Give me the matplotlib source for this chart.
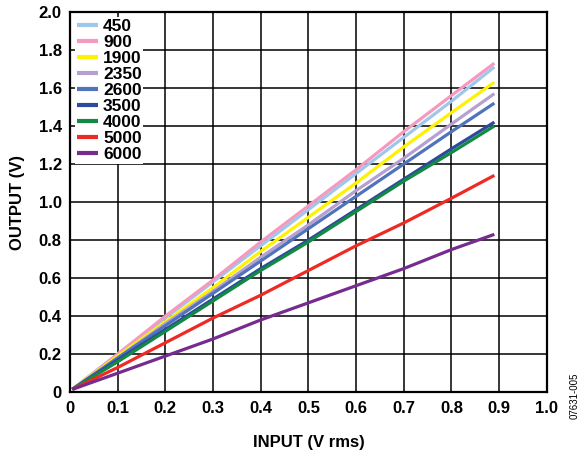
import matplotlib
matplotlib.use("Agg")
import matplotlib.pyplot as plt

plt.rcParams['font.family'] = ['Liberation Sans', 'DejaVu Sans']

# input voltage (V rms) and output voltage (V) per frequency series
input_v = [0.005, 0.1, 0.2, 0.3, 0.4, 0.5, 0.6, 0.7, 0.8, 0.89]
series = {
    "450":  [0.015, 0.20, 0.39, 0.58, 0.77, 0.96, 1.15, 1.34, 1.53, 1.71],
    "900":  [0.015, 0.20, 0.40, 0.59, 0.79, 0.98, 1.17, 1.37, 1.56, 1.73],
    "1900": [0.015, 0.19, 0.37, 0.55, 0.74, 0.92, 1.10, 1.29, 1.47, 1.63],
    "2350": [0.015, 0.18, 0.36, 0.53, 0.71, 0.88, 1.06, 1.23, 1.41, 1.57],
    "2600": [0.015, 0.18, 0.35, 0.52, 0.69, 0.86, 1.03, 1.20, 1.37, 1.52],
    "3500": [0.015, 0.17, 0.33, 0.49, 0.65, 0.80, 0.96, 1.12, 1.28, 1.42],
    "4000": [0.015, 0.16, 0.32, 0.48, 0.64, 0.79, 0.95, 1.11, 1.26, 1.40],
    "5000": [0.015, 0.13, 0.26, 0.39, 0.51, 0.64, 0.77, 0.89, 1.02, 1.14],
    "6000": [0.015, 0.10, 0.19, 0.28, 0.38, 0.47, 0.56, 0.65, 0.75, 0.83],
}
colors = {
    "450": "#9DC8EA",
    "900": "#F49AC1",
    "1900": "#FFF200",
    "2350": "#B5A0CF",
    "2600": "#4F74BC",
    "3500": "#2E4A9E",
    "4000": "#138A43",
    "5000": "#EE2A24",
    "6000": "#772B8E",
}

x_ticks = [0, 0.1, 0.2, 0.3, 0.4, 0.5, 0.6, 0.7, 0.8, 0.9, 1.0]
x_labels = ["0", "0.1", "0.2", "0.3", "0.4", "0.5", "0.6", "0.7", "0.8", "0.9", "1.0"]
y_ticks = [0, 0.2, 0.4, 0.6, 0.8, 1.0, 1.2, 1.4, 1.6, 1.8, 2.0]
y_labels = ["0", "0.2", "0.4", "0.6", "0.8", "1.0", "1.2", "1.4", "1.6", "1.8", "2.0"]

fig = plt.figure(figsize=(5.88, 4.55), dpi=100)
ax = fig.add_axes([0.119, 0.138, 0.811, 0.836])

for name, vals in series.items():
    ax.plot(input_v, vals, color=colors[name], lw=2.3, label=name,
            solid_capstyle="butt")

ax.set_xlim(0, 1.0)
ax.set_ylim(0, 2.0)
ax.set_xticks(x_ticks)
ax.set_xticklabels(x_labels)
ax.set_yticks(y_ticks)
ax.set_yticklabels(y_labels)
ax.grid(True, color="black", lw=1.1)
ax.set_axisbelow(True)
ax.tick_params(length=0, pad=6, labelsize=12)
for lab in ax.get_xticklabels() + ax.get_yticklabels():
    lab.set_fontweight("bold")
for sp in ax.spines.values():
    sp.set_linewidth(1.6)

ax.set_xlabel("INPUT (V rms)", fontsize=12, fontweight="bold", labelpad=14)
ax.set_ylabel("OUTPUT (V)", fontsize=12, fontweight="bold", labelpad=10)

leg = ax.legend(loc="upper left", frameon=True, fancybox=False,
                handlelength=1.2, handletextpad=0.3, labelspacing=0.05,
                borderpad=0.1, borderaxespad=0.3,
                prop={"weight": "bold", "size": 12.5})
leg.get_frame().set_facecolor("white")
leg.get_frame().set_edgecolor("none")
leg.get_frame().set_alpha(1)
for line in leg.get_lines():
    line.set_linewidth(3)

fig.text(0.978, 0.13, "07631-005", rotation=90, fontsize=7,
         ha="center", va="center")

fig.savefig("out.png", dpi=100)
